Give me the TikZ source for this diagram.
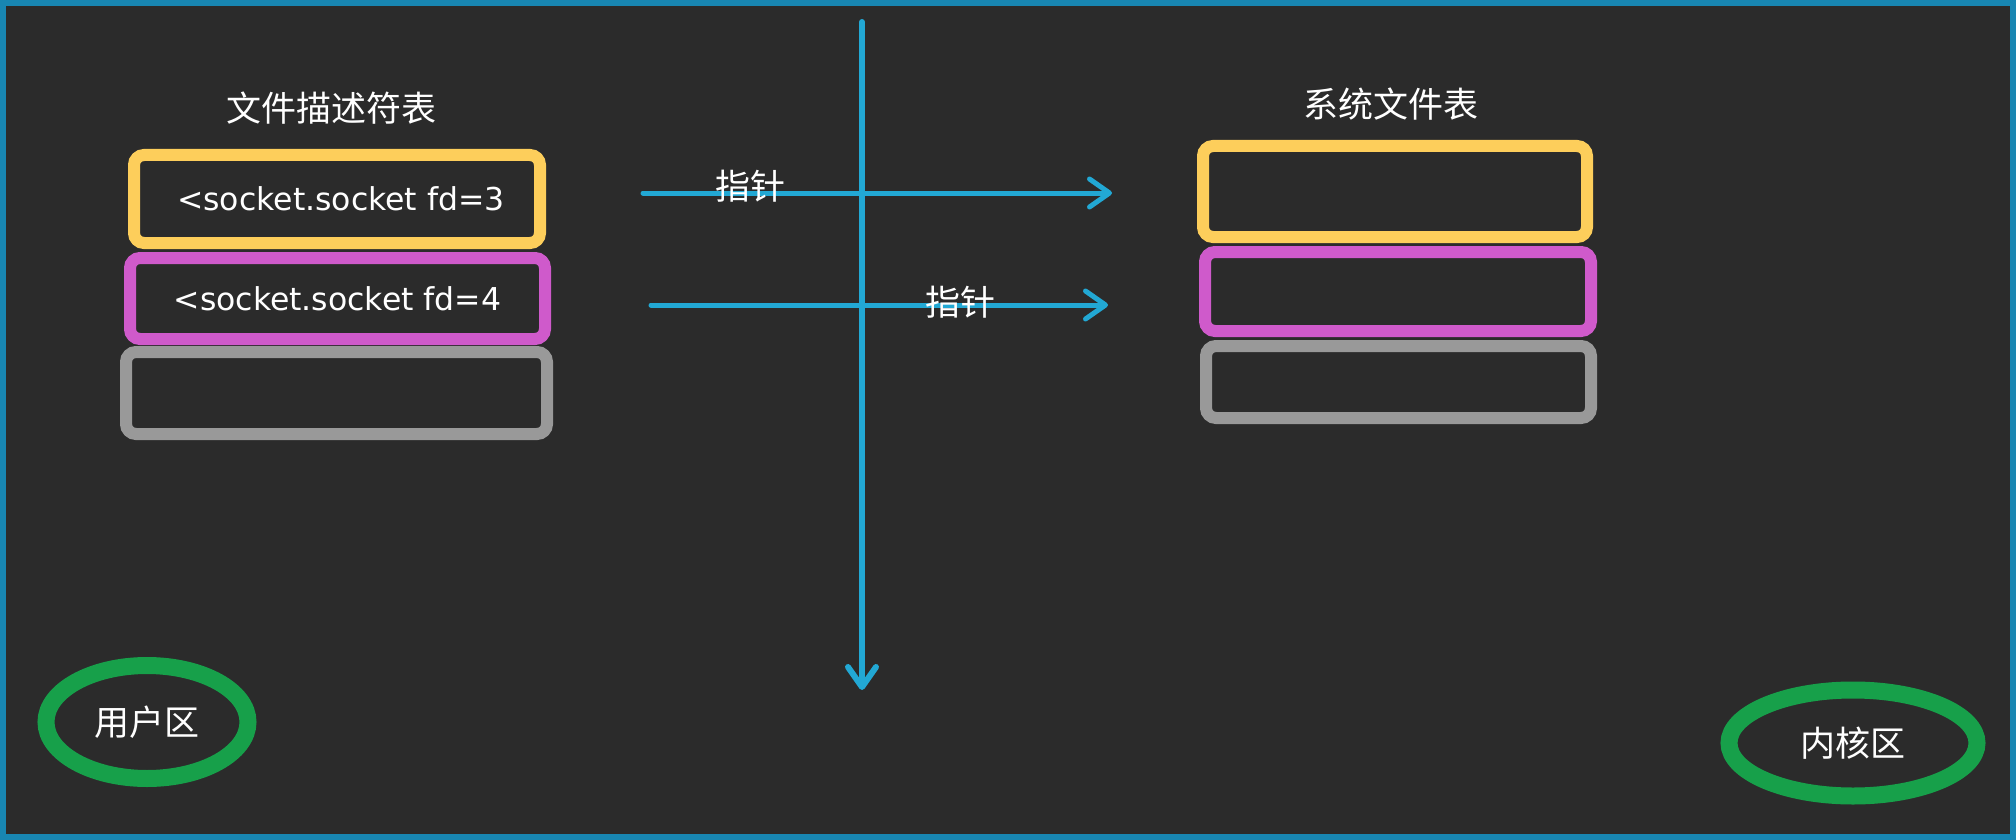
\documentclass[tikz,border=0pt]{standalone}
\usepackage{fontspec}
\setmainfont{DejaVu Sans}
\newfontfamily\cjk{Noto Sans CJK SC}
\usetikzlibrary{arrows.meta,positioning,shapes.geometric}
\definecolor{bgdark}{RGB}{43,43,43}
\definecolor{frameblue}{RGB}{24,134,178}
\definecolor{ptrblue}{RGB}{34,168,212}
\definecolor{slotyellow}{RGB}{253,206,91}
\definecolor{slotpink}{RGB}{207,90,203}
\definecolor{slotgray}{RGB}{153,153,153}
\definecolor{zonegreen}{RGB}{23,160,74}

\begin{document}
\begin{tikzpicture}[x=1pt,y=-1pt,
  slot/.style={draw,rounded corners=10pt,line width=12pt,inner sep=0pt,text=white,font=\fontsize{31.5}{38}\selectfont},
  zone/.style={draw=zonegreen,ellipse,line width=17pt,inner sep=0pt,text=white,font=\cjk\fontsize{35}{40}\selectfont},
  title/.style={text=white,font=\cjk\fontsize{35}{40}\selectfont},
  ptr/.style={draw=ptrblue,line width=5pt,line cap=round,-{Straight Barb[length=20pt,width=28pt,line cap=round,line join=round]}}]
\useasboundingbox (0,0) rectangle (2016,840);
\fill[bgdark] (0,0) rectangle (2016,840);
\draw[frameblue,line width=6pt] (3,3) rectangle (2013,837);
% user side table
\node[title] (ltitle) at (331,108) {文件描述符表};
\node[slot,draw=slotyellow,minimum width=406pt,minimum height=88pt] (l3) at (337,199) {\hspace{8pt}<socket.socket fd=3};
\node[slot,draw=slotpink,minimum width=415pt,minimum height=81pt] (l4) at (337.5,298.5) {<socket.socket fd=4};
\node[slot,draw=slotgray,minimum width=421pt,minimum height=82pt] (l5) at (336.5,393) {};
% kernel side table
\node[title] (rtitle) at (1391,104) {系统文件表};
\node[slot,draw=slotyellow,minimum width=384pt,minimum height=91pt] (r3) at (1395,191.5) {};
\node[slot,draw=slotpink,minimum width=386pt,minimum height=79pt] (r4) at (1398,291.5) {};
\node[slot,draw=slotgray,minimum width=385pt,minimum height=72pt] (r5) at (1398.5,382) {};
% divider
\coordinate (dtop) at (862,22);
\coordinate (dbot) at (862,690);
\draw[ptr,line width=6pt] (dtop) -- (dbot);
% pointers
\coordinate (p3s) at (643,193);
\coordinate (p3e) at (1112,193);
\coordinate (p4s) at (651,305);
\coordinate (p4e) at (1108,305);
\draw[ptr] (p3s) -- (p3e);
\draw[ptr] (p4s) -- (p4e);
\node[title] (ptr3) at (750,186) {指针};
\node[title] (ptr4) at (960,302) {指针};
% zones
\node[zone,minimum width=202pt,minimum height=113pt] (uzone) at (147,722) {用户区};
\node[zone,minimum width=248pt,minimum height=106pt] (kzone) at (1853,743) {内核区};
\end{tikzpicture}
\end{document}
